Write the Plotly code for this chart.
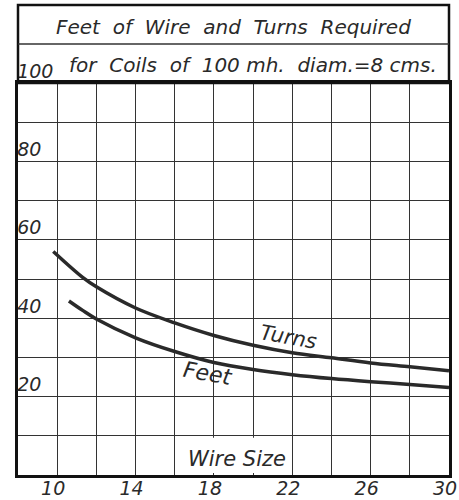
import plotly.graph_objects as go

# Data
turns_wire = [9.8, 11.3, 12, 14, 16, 18, 20, 22, 24, 26, 28, 30]
turns_vals = [57.0, 50.4, 48.0, 42.6, 38.8, 35.6, 33.1, 31.2, 29.9, 28.6, 27.6, 26.6]
feet_wire = [10.6, 11.3, 12, 14, 16, 18, 20, 22, 24, 26, 28, 30]
feet_vals = [44.4, 42.0, 39.8, 35.0, 31.5, 28.7, 26.9, 25.6, 24.6, 23.8, 23.1, 22.3]

x_tickvals = [10, 14, 18, 22, 26, 30]
x_ticktext = ["10", "14", "18", "22", "26", "30"]
y_tickvals = [20, 40, 60, 80, 100]
y_ticktext = ["20", "40", "60", "80", "100"]

title_line1 = "Feet  of  Wire  and  Turns  Required"
title_line2 = "for  Coils  of  100 mh.  diam.=8 cms."
x_label = "Wire Size"

FONT = "DejaVu Sans"
INK = "#2a2a2a"

fig = go.Figure()
fig.add_trace(go.Scatter(x=turns_wire, y=turns_vals, mode="lines", name="Turns",
                         line=dict(color=INK, width=3.5, shape="spline", smoothing=1.0)))
fig.add_trace(go.Scatter(x=feet_wire, y=feet_vals, mode="lines", name="Feet",
                         line=dict(color=INK, width=3.5, shape="spline", smoothing=1.0)))

fig.update_layout(
    width=459, height=500,
    margin=dict(l=18, r=10, t=83, b=25, autoexpand=False),
    paper_bgcolor="white", plot_bgcolor="white",
    showlegend=False,
    font=dict(family=FONT, color=INK, style="italic"),
)

fig.update_xaxes(
    range=[8, 30], automargin=False,
    tickmode="array", tickvals=x_tickvals, ticktext=x_ticktext, showgrid=False,
    minor=dict(showgrid=True, gridcolor="#333", gridwidth=1.3, dtick=2, tick0=8, ticks=""),
    showline=True, linecolor="#111", linewidth=3, mirror=True,
    ticks="", ticklabelshift=-4, ticklabelstandoff=-6,
    tickfont=dict(family=FONT, size=19, color=INK, style="italic"),
    zeroline=False,
)
fig.update_yaxes(
    range=[0, 100], automargin=False, showgrid=False,
    tickmode="array", tickvals=y_tickvals, ticktext=y_ticktext,
    ticklabelposition="inside", ticklabelshift=-12, ticklabelstandoff=0,
    ticklabeloverflow="allow",
    minor=dict(showgrid=True, gridcolor="#333", gridwidth=1.3, dtick=10, tick0=0, ticks=""),
    showline=True, linecolor="#111", linewidth=3, mirror=True,
    ticks="", zeroline=False,
    tickfont=dict(family=FONT, size=19, color=INK, style="italic"),
)

# White box behind "Wire Size"
fig.add_shape(type="rect", xref="x", yref="y", x0=16.15, x1=21.85, y0=0.5, y1=9.5,
              fillcolor="white", line=dict(width=0), layer="between")

# Title box above plot
fig.add_shape(type="rect", xref="paper", yref="paper", x0=0, x1=1, y0=1, y1=1 + 78 / 392,
              line=dict(color="#111", width=2.5), fillcolor="rgba(0,0,0,0)")
fig.add_shape(type="line", xref="paper", yref="paper", x0=0, x1=1,
              y0=1 + 39 / 392, y1=1 + 39 / 392, line=dict(color="#333", width=1.5))

fig.add_annotation(text=title_line1, xref="paper", yref="paper", x=0.5, y=1 + 56 / 392,
                   showarrow=False, yanchor="middle", xanchor="center",
                   font=dict(family=FONT, size=20, color=INK, style="italic"))
fig.add_annotation(text=title_line2, xref="paper", yref="paper", x=0.545, y=1 + 18 / 392,
                   showarrow=False, yanchor="middle", xanchor="center",
                   font=dict(family=FONT, size=20, color=INK, style="italic"))

fig.add_annotation(text="Turns", x=21.8, y=35.2, xref="x", yref="y", showarrow=False,
                   textangle=10, font=dict(family=FONT, size=21, color=INK, style="italic"))
fig.add_annotation(text="Feet", x=17.7, y=25.8, xref="x", yref="y", showarrow=False,
                   textangle=10, font=dict(family=FONT, size=22, color=INK, style="italic"))
fig.add_annotation(text=x_label, x=19.2, y=4.1, xref="x", yref="y", showarrow=False,
                   font=dict(family=FONT, size=21, color=INK, style="italic"))

fig.write_html("out.html", config={"displayModeBar": False},
               post_script="document.body.style.margin='0';")
